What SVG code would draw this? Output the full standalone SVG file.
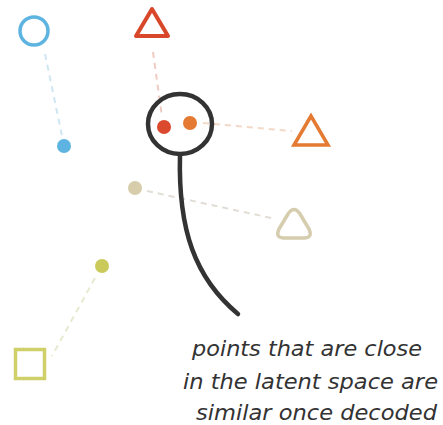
<svg xmlns="http://www.w3.org/2000/svg" width="443" height="425" viewBox="0 0 443 425">
<style>
.dash{fill:none;stroke-width:2;stroke-dasharray:6 5;stroke-linecap:butt}
.shape{fill:none;stroke-width:3.5;stroke-linejoin:round}
.lbl{font-family:"DejaVu Sans","Liberation Sans",sans-serif;font-style:italic;font-size:21px;fill:#333}
</style>
<rect width="443" height="425" fill="#fff"/>
<g id="connectors">
<line class="dash" x1="45" y1="54" x2="62" y2="136" stroke="#cfe6f3"/>
<line class="dash" x1="153" y1="52" x2="162" y2="117" stroke="#efcbc2"/>
<line class="dash" x1="203" y1="123" x2="292" y2="131" stroke="#f3d8c7"/>
<line class="dash" x1="147" y1="191" x2="276" y2="219" stroke="#e2ddd5"/>
<line class="dash" x1="95" y1="278" x2="52" y2="356" stroke="#e8e9d0"/>
</g>
<g id="blue-circle"><circle cx="34" cy="31" r="14" class="shape" stroke="#5db4e0"/></g>
<g id="blue-dot"><circle cx="64" cy="146" r="7" fill="#5db4e0"/></g>
<g id="red-triangle"><path d="M152,9 L136,36 L168,36 Z" class="shape" stroke="#d9472b" style="stroke-width:4"/></g>
<g id="orange-triangle"><path d="M311,116 L294,145 L328,145 Z" class="shape" stroke="#e57a32" style="stroke-linejoin:miter"/></g>
<g id="beige-triangle"><path d="M288,214 Q294,205 300,214 L309,229 Q313,238 304,238 L284,238 Q275,238 279,229 Z" class="shape" stroke="#d6cdaf"/></g>
<g id="olive-square"><rect x="15.5" y="349.5" width="29" height="29" class="shape" stroke="#cfd06a" style="stroke-linejoin:miter"/></g>
<g id="beige-dot"><circle cx="135" cy="188" r="7" fill="#d8cdaa"/></g>
<g id="olive-dot"><circle cx="102" cy="266" r="7" fill="#c9ca5a"/></g>
<g id="magnifier">
<ellipse cx="180" cy="124" rx="32" ry="30" fill="none" stroke="#333" stroke-width="4.5"/>
<path d="M180,155 C178,230 195,278 238,314" fill="none" stroke="#333" stroke-width="4.5" stroke-linecap="round"/>
</g>
<g id="red-dot"><circle cx="164" cy="127" r="7" fill="#db4a2e"/></g>
<g id="orange-dot"><circle cx="190" cy="123" r="7" fill="#e57a32"/></g>
<g id="label">
<text class="lbl" x="192" y="356" textLength="230" lengthAdjust="spacingAndGlyphs">points that are close</text>
<text class="lbl" x="183" y="389" textLength="255" lengthAdjust="spacingAndGlyphs">in the latent space are</text>
<text class="lbl" x="196" y="420" textLength="241" lengthAdjust="spacingAndGlyphs">similar once decoded</text>
</g>
</svg>
